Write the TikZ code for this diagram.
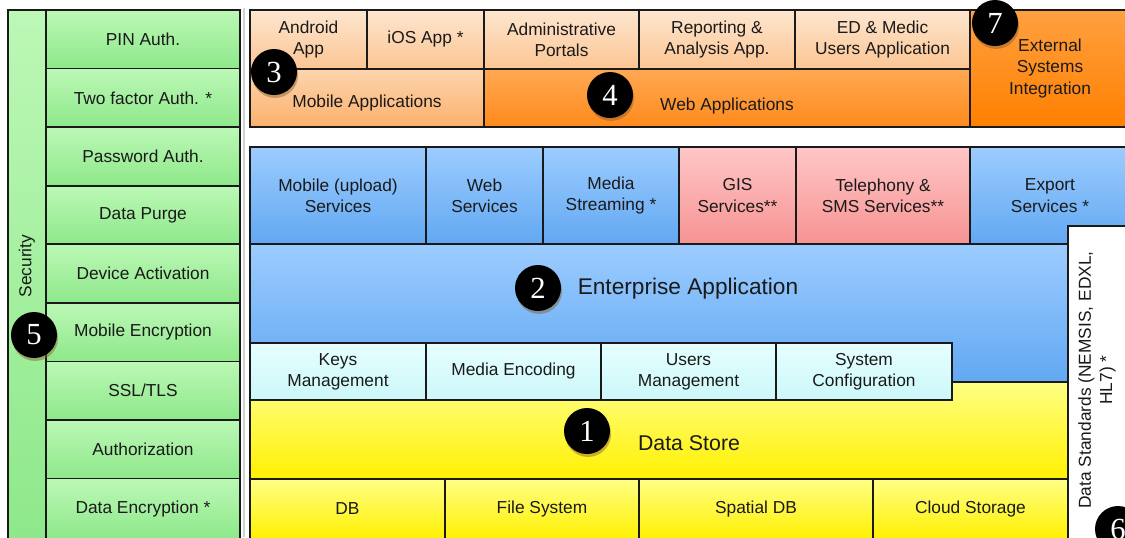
\documentclass[tikz,border=0pt]{standalone}
\usepackage{fontspec}
\setmainfont{Liberation Sans}
\newfontfamily\numfont{Liberation Serif}
\usetikzlibrary{shadows}
\definecolor{bordc}{HTML}{1A1A1A}
\definecolor{txt}{HTML}{1A1A1A}
\definecolor{gTop}{HTML}{BCF8B6}
\definecolor{gBot}{HTML}{8EE88A}
\definecolor{peTop}{HTML}{FDE6CF}
\definecolor{peBot}{HTML}{FCC593}
\definecolor{moTop}{HTML}{FDD5AE}
\definecolor{moBot}{HTML}{FBB06C}
\definecolor{weTop}{HTML}{FFA852}
\definecolor{weBot}{HTML}{FF8A1C}
\definecolor{exTop}{HTML}{FFA040}
\definecolor{exBot}{HTML}{FF8000}
\definecolor{blTop}{HTML}{9CCCFF}
\definecolor{blBot}{HTML}{62A8F2}
\definecolor{piTop}{HTML}{FFC6C6}
\definecolor{piBot}{HTML}{F79393}
\definecolor{cyTop}{HTML}{E6FFFF}
\definecolor{cyBot}{HTML}{CCF7F9}
\definecolor{yeTop}{HTML}{FFFF85}
\definecolor{yeBot}{HTML}{FFF000}
\newcommand\blk[7]{%
  \pgfmathsetmacro\bw{(#4-#2)*0.75}%
  \pgfmathsetmacro\bh{(#5-#3)*0.75}%
  \node[#6, minimum width=\bw pt, minimum height=\bh pt, anchor=north west] (#1) at (#2,#3) {#7};}
\tikzset{
  box/.style={draw=bordc, line width=1.2pt, outer sep=0pt, inner sep=1pt, align=center,
    font=\fontsize{13}{16}\selectfont, text=txt},
  green/.style={box, top color=gTop, bottom color=gBot},
  peach/.style={box, top color=peTop, bottom color=peBot},
  mobc/.style={box, top color=moTop, bottom color=moBot},
  webc/.style={box, top color=weTop, bottom color=weBot},
  extc/.style={box, top color=exTop, bottom color=exBot},
  bluec/.style={box, top color=blTop, bottom color=blBot},
  pinkc/.style={box, top color=piTop, bottom color=piBot},
  cyanc/.style={box, top color=cyTop, bottom color=cyBot},
  yelc/.style={box, top color=yeTop, bottom color=yeBot},
  whitec/.style={box, fill=white},
  numc/.style={circle, fill=black, minimum size=34.5pt, inner sep=0pt, text=white,
    font=\numfont\fontsize{23}{23}\selectfont,
    drop shadow={shadow xshift=0.8pt, shadow yshift=-2.2pt, opacity=0.45, fill=brown!70!black}},
  lbl/.style={font=\fontsize{13}{16}\selectfont, text=txt, align=center}
}
\begin{document}
\begin{tikzpicture}[x=0.75pt,y=-0.75pt]
\useasboundingbox (0,0) rectangle (1125,537);
% separator line
\draw[gray!35, line width=0.8pt] (244,8) -- (244,537);
% security column
\blk{sec}{8}{10}{46}{539}{green}{}
\node[lbl, rotate=90] (sect) at (27,266) {Security};
\blk{s1}{46}{10}{240}{68.6}{green}{PIN Auth.}
\blk{s2}{46}{68.6}{240}{127.1}{green}{Two factor Auth. *}
\blk{s3}{46}{127.1}{240}{185.7}{green}{Password Auth.}
\blk{s4}{46}{185.7}{240}{244.2}{green}{Data Purge}
\blk{s5}{46}{244.2}{240}{302.8}{green}{Device Activation}
\blk{s6}{46}{302.8}{240}{361.3}{green}{Mobile Encryption}
\blk{s7}{46}{361.3}{240}{419.9}{green}{SSL/TLS}
\blk{s8}{46}{419.9}{240}{478.4}{green}{Authorization}
\blk{s9}{46}{478.4}{240}{539}{green}{Data Encryption *}
% applications
\blk{and}{250}{10}{367}{69}{peach}{Android\\App}
\blk{ios}{367}{10}{484}{69}{peach}{iOS App *}
\blk{adm}{484}{10}{639}{69}{peach}{Administrative\\Portals}
\blk{rep}{639}{10}{795}{69}{peach}{Reporting \&\\Analysis App.}
\blk{edm}{795}{10}{970}{69}{peach}{ED \& Medic\\Users Application}
\blk{ext}{970}{10}{1130}{127}{extc}{External\\Systems\\Integration}
\blk{mob}{250}{69}{484}{127}{mobc}{}
\blk{web}{484}{69}{970}{127}{webc}{}
\node[lbl] (mobt) at (367,103) {Mobile Applications};
\node[lbl] (webt) at (727,106) {Web Applications};
% services
\blk{mup}{250}{147}{426}{244}{bluec}{Mobile (upload)\\Services}
\blk{wsv}{426}{147}{543}{244}{bluec}{Web\\Services}
\blk{mst}{543}{147}{679}{244}{bluec}{Media\\Streaming *}
\blk{gis}{679}{147}{796}{244}{pinkc}{GIS\\Services**}
\blk{tel}{796}{147}{970}{244}{pinkc}{Telephony \&\\SMS Services**}
\blk{exp}{970}{147}{1130}{244}{bluec}{Export\\Services *}
% enterprise & data store
\blk{ent}{250}{244}{1068}{382}{bluec}{}
\blk{dst}{250}{382}{1068}{479}{yelc}{}
\node[font=\fontsize{17}{20}\selectfont, text=txt] (entt) at (688,289) {Enterprise Application};
\node[font=\fontsize{16}{19}\selectfont, text=txt] (dstt) at (689,443) {Data Store};
\blk{key}{250}{343}{426}{400}{cyanc}{Keys\\Management}
\blk{men}{426}{343}{601}{400}{cyanc}{Media Encoding}
\blk{usr}{601}{343}{776}{400}{cyanc}{Users\\Management}
\blk{sys}{776}{343}{952}{400}{cyanc}{System\\Configuration}
\blk{db}{250}{479}{445}{539}{yelc}{DB}
\blk{fs}{445}{479}{639}{539}{yelc}{File System}
\blk{sdb}{639}{479}{873}{539}{yelc}{Spatial DB}
\blk{cld}{873}{479}{1068}{539}{yelc}{Cloud Storage}
% data standards
\blk{dstd}{1068}{226}{1132}{542}{whitec}{}
\node[lbl, rotate=90] (dstdt) at (1097,380) {Data Standards (NEMSIS, EDXL,\\HL7) *};
% numbers
\node[numc] (n1) at (587,431) {1};
\node[numc] (n2) at (538,288) {2};
\node[numc] (n3) at (274,72) {3};
\node[numc] (n4) at (610,95) {4};
\node[numc] (n5) at (34,335) {5};
\node[numc] (n6) at (1118,529) {6};
\node[numc] (n7) at (995,23) {7};
\end{tikzpicture}
\end{document}
